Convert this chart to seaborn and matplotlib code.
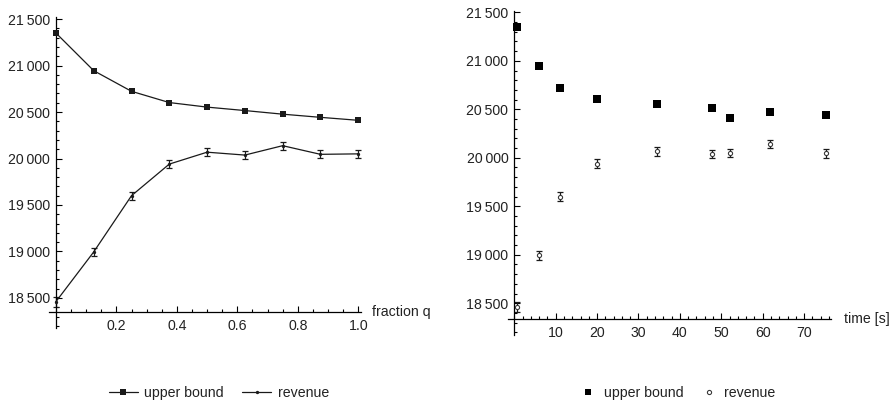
import matplotlib
matplotlib.use('Agg')
import matplotlib.pyplot as plt
import seaborn as sns
import numpy as np
import pandas as pd
from matplotlib.ticker import MultipleLocator, FuncFormatter, FixedLocator
from matplotlib.lines import Line2D

# ---------------- data ----------------
fraction_q = [0, 0.125, 0.25, 0.375, 0.5, 0.625, 0.75, 0.875, 1.0]
time_s = [0.55, 5.95, 11.0, 20.1, 34.4, 47.7, 61.8, 75.2, 52.1]
upper_bound = [21350, 20945, 20723, 20602, 20553, 20516, 20477, 20443, 20411]
revenue = [18460, 18995, 19600, 19940, 20068, 20037, 20138, 20045, 20050]
revenue_err = [55, 47, 43, 44, 45, 43, 42, 42, 43]
y_ticks = [18500, 19000, 19500, 20000, 20500, 21000, 21500]
q_ticks = [0.2, 0.4, 0.6, 0.8, 1.0]
t_ticks = [10, 20, 30, 40, 50, 60, 70]
series_labels = ['upper bound', 'revenue']

df = pd.DataFrame({'q': fraction_q, 't': time_s, 'upper': upper_bound,
                   'revenue': revenue, 'err': revenue_err})

sns.set_theme(style='white')
plt.rcParams['font.family'] = ['Liberation Sans', 'DejaVu Sans']

FS = 10.2
INK = '#1a1a1a'

fig = plt.figure(figsize=(8.96, 4.05), dpi=100)
axL = fig.add_axes([0.055, 0.190, 0.3475, 0.767])
axR = fig.add_axes([0.567, 0.1728, 0.361, 0.799])

# ---------- left: fraction q ----------
axL.errorbar(df['q'], df['revenue'], yerr=df['err'], fmt='none', ecolor=INK,
             elinewidth=0.9, capsize=2, capthick=0.9, zorder=2)
sns.lineplot(data=df, x='q', y='upper', ax=axL, color=INK, lw=0.9, marker='s',
             markersize=4.6, markeredgewidth=0, errorbar=None, zorder=3)
sns.lineplot(data=df, x='q', y='revenue', ax=axL, color=INK, lw=0.9, marker='o',
             markersize=2.4, markeredgewidth=0, errorbar=None, zorder=3)

# ---------- right: time ----------
axR.errorbar(df['t'], df['revenue'], yerr=df['err'], fmt='none', ecolor=INK,
             elinewidth=0.9, capsize=2, capthick=0.9, zorder=2)
sns.scatterplot(data=df, x='t', y='upper', ax=axR, marker='s', s=28,
                color='black', linewidth=0, zorder=3)
sns.scatterplot(data=df, x='t', y='revenue', ax=axR, marker='o', s=9,
                color='white', edgecolor='#3a3a3a', linewidth=0.8, zorder=3)

yfmt = FuncFormatter(lambda v, p: f"{int(round(v)):,}".replace(',', '\u2009'))

def style(ax, xlim, ylim, cross, xt, xminor, xfmt, xlabel, xlabel_off):
    ax.set_xlim(*xlim)
    ax.set_ylim(*ylim)
    for s in ['top', 'right']:
        ax.spines[s].set_visible(False)
    ax.spines['left'].set_position(('data', 0))
    ax.spines['bottom'].set_position(('data', cross))
    for s in ['left', 'bottom']:
        ax.spines[s].set_color('black')
        ax.spines[s].set_linewidth(0.9)
    ax.xaxis.set_major_locator(FixedLocator(xt))
    ax.xaxis.set_minor_locator(MultipleLocator(xminor))
    ax.xaxis.set_major_formatter(FuncFormatter(xfmt))
    ax.yaxis.set_major_locator(FixedLocator(y_ticks))
    ax.yaxis.set_minor_locator(MultipleLocator(100))
    ax.yaxis.set_major_formatter(yfmt)
    ax.tick_params(which='both', direction='in', color='black', width=0.8,
                   bottom=True, left=True, top=False, right=False,
                   labelsize=FS, labelcolor='#222222')
    ax.tick_params(which='major', length=4)
    ax.tick_params(which='minor', length=2.3)
    ax.tick_params(axis='y', which='major', pad=4.3)
    ax.tick_params(axis='x', which='major', pad=5.0)
    ax.set_xlabel('')
    ax.set_ylabel('')
    ax.grid(False)
    ax.set_facecolor('white')
    ax.annotate(xlabel, xy=(1, cross), xycoords=('axes fraction', 'data'),
                xytext=(xlabel_off, 0), textcoords='offset points',
                ha='left', va='center', fontsize=FS, color='#222222')

style(axL, (-0.022, 1.008), (18176, 21518), 18346, q_ticks, 0.05,
      lambda v, p: f"{v:.1f}", 'fraction q', 8.1)
style(axR, (-1.5, 76.6), (18172, 21510), 18334, t_ticks, 2,
      lambda v, p: f"{int(v)}", 'time [s]', 8.9)

# ---------- legends ----------
hL = [Line2D([], [], color=INK, lw=0.9, marker='s', markersize=4.6, markeredgewidth=0),
      Line2D([], [], color=INK, lw=0.9, marker='o', markersize=2.4, markeredgewidth=0)]
hR = [Line2D([], [], ls='none', marker='s', markersize=5, color='black', markeredgewidth=0),
      Line2D([], [], ls='none', marker='o', markersize=3, markerfacecolor='white',
             markeredgecolor='#3a3a3a', markeredgewidth=0.8)]
fig.legend(hL, series_labels, loc='center', bbox_to_anchor=(0.2444, 0.0296), ncol=2,
           frameon=False, fontsize=FS, handlelength=2.05, handletextpad=0.46,
           columnspacing=1.3, borderpad=0, borderaxespad=0, labelcolor='#222222')
fig.legend(hR, series_labels, loc='center', bbox_to_anchor=(0.757, 0.0296), ncol=2,
           frameon=False, fontsize=FS, handlelength=1.0, handletextpad=0.58,
           columnspacing=1.28, borderpad=0, borderaxespad=0, labelcolor='#222222')

fig.savefig('out.png', dpi=100, facecolor='white')
